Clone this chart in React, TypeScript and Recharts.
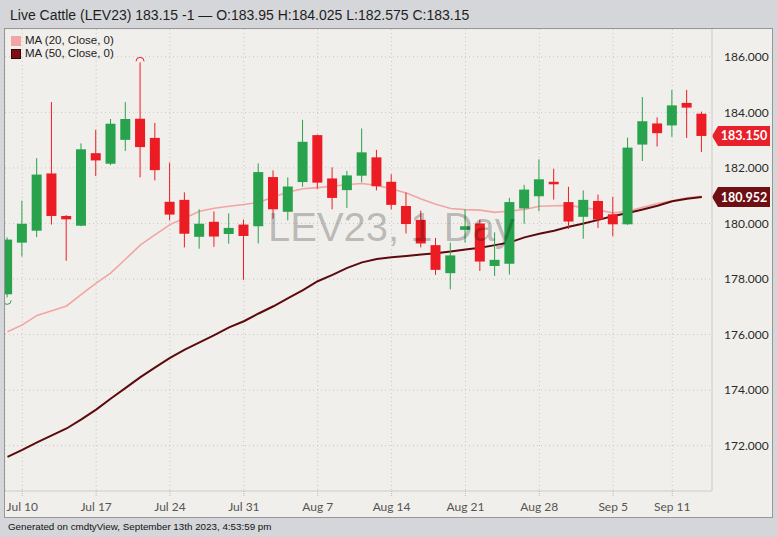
import React from 'react';
import { ComposedChart, Bar, Line, XAxis, YAxis, CartesianGrid, ReferenceLine } from 'recharts';

const DATES = [
  'Jul 7', 'Jul 10', 'Jul 11', 'Jul 12', 'Jul 13', 'Jul 14', 'Jul 17', 'Jul 18', 'Jul 19', 'Jul 20',
  'Jul 21', 'Jul 24', 'Jul 25', 'Jul 26', 'Jul 27', 'Jul 28', 'Jul 31', 'Aug 1', 'Aug 2', 'Aug 3',
  'Aug 4', 'Aug 7', 'Aug 8', 'Aug 9', 'Aug 10', 'Aug 11', 'Aug 14', 'Aug 15', 'Aug 16', 'Aug 17',
  'Aug 18', 'Aug 21', 'Aug 22', 'Aug 23', 'Aug 24', 'Aug 25', 'Aug 28', 'Aug 29', 'Aug 30', 'Aug 31',
  'Sep 1', 'Sep 5', 'Sep 6', 'Sep 7', 'Sep 8', 'Sep 11', 'Sep 12', 'Sep 13',
];

const OPEN = [
  177.45, 179.31, 179.74, 181.8, 180.27, 179.92, 182.53, 182.15, 183.01, 183.77,
  183.08, 180.78, 180.85, 179.52, 180.06, 179.62, 179.96, 179.9, 181.67, 180.42,
  181.49, 183.18, 181.62, 181.2, 181.72, 182.38, 181.5, 180.63, 180.13, 179.22,
  178.21, 179.77, 180.0, 178.47, 178.55, 180.54, 180.98, 181.5, 180.77, 180.24,
  180.81, 180.33, 179.97, 182.84, 183.6, 183.53, 184.34, 183.95,
];
const HIGH = [
  179.5, 180.82, 182.35, 184.37, 180.3, 182.88, 183.37, 183.76, 184.37, 185.8,
  183.62, 182.19, 181.12, 180.51, 180.43, 180.36, 180.14, 182.16, 181.91, 181.66,
  183.73, 183.2, 182.02, 181.89, 183.42, 182.65, 181.77, 181.11, 180.46, 179.48,
  179.31, 180.51, 180.14, 179.68, 180.92, 181.39, 182.31, 181.97, 181.32, 181.19,
  181.04, 180.96, 183.09, 184.55, 183.82, 184.81, 184.81, 184.025,
];
const LOW = [
  177.34, 178.81, 179.51, 179.96, 178.66, 179.9, 181.71, 182.1, 182.61, 181.66,
  181.55, 180.11, 179.14, 179.09, 179.16, 179.27, 177.97, 179.28, 180.17, 180.11,
  181.32, 181.25, 180.51, 180.56, 181.48, 181.19, 180.51, 179.64, 179.14, 178.15,
  177.63, 179.31, 178.29, 178.11, 178.16, 179.99, 180.44, 180.86, 179.8, 179.45,
  179.84, 179.54, 179.95, 182.25, 182.77, 183.12, 183.08, 182.575,
];
const CLOSE = [
  179.42, 179.99, 181.76, 180.27, 180.15, 182.67, 182.27, 183.59, 183.76, 182.75,
  181.92, 180.32, 179.63, 179.99, 179.53, 179.84, 179.55, 181.85, 180.51, 181.33,
  182.94, 181.47, 180.92, 181.73, 182.56, 181.34, 180.67, 179.98, 179.28, 178.33,
  178.85, 179.9, 178.63, 178.69, 180.77, 181.22, 181.59, 181.41, 180.07, 180.85,
  180.14, 179.97, 182.73, 183.68, 183.25, 184.25, 184.17, 183.15,
];
const MA20 = [
  176.1, 176.35, 176.69, 176.86, 177.03, 177.45, 177.85, 178.22, 178.72, 179.23,
  179.6, 179.96, 180.2, 180.44, 180.55, 180.62, 180.68, 180.76, 180.95, 181.13,
  181.25, 181.29, 181.34, 181.4, 181.44, 181.37, 181.24, 181.1, 180.88, 180.69,
  180.54, 180.5, 180.48, 180.4, 180.45, 180.5, 180.62, 180.64, 180.65, 180.57,
  180.48, 180.38, 180.44, 180.58, 180.72, 180.82, 180.92, 180.98,
];
const MA50 = [
  171.6, 171.85, 172.12, 172.37, 172.62, 172.95, 173.3, 173.7, 174.08, 174.47,
  174.82, 175.16, 175.46, 175.72, 175.98, 176.26, 176.48, 176.76, 177.02, 177.31,
  177.6, 177.92, 178.15, 178.4, 178.6, 178.72, 178.78, 178.83, 178.88, 178.93,
  178.99, 179.06, 179.13, 179.22, 179.32, 179.5, 179.63, 179.74, 179.88, 180.0,
  180.13, 180.27, 180.38, 180.5, 180.64, 180.8, 180.89, 180.952,
];

const TICK_LABELS = ['Jul 10', 'Jul 17', 'Jul 24', 'Jul 31', 'Aug 7', 'Aug 14', 'Aug 21', 'Aug 28', 'Sep 5', 'Sep 11'];
const Y_TICKS = [172, 174, 176, 178, 180, 182, 184, 186];

const GREEN = '#28a24c';
const RED = '#ec1c24';
const MA20_COLOR = '#f2a5a3';
const MA50_COLOR = '#5c0a0d';

const data = DATES.map((d, i) => ({
  i,
  date: d,
  open: OPEN[i],
  high: HIGH[i],
  low: LOW[i],
  close: CLOSE[i],
  range: [LOW[i], HIGH[i]],
  ma20: MA20[i],
  ma50: MA50[i],
}));

const xTicks = TICK_LABELS.map((l) => DATES.indexOf(l));
const maxHigh = Math.max(...HIGH);
const minLow = Math.min(...LOW);
const lastClose = CLOSE[CLOSE.length - 1];
const lastMa50 = MA50[MA50.length - 1];

const Candle = (props: any) => {
  const { x, y, width, height, payload } = props;
  if (!payload) return null;
  const { open, close, high, low } = payload;
  const top = height < 0 ? y + height : y;
  const h = Math.abs(height);
  const ratio = high - low > 0 ? h / (high - low) : 0;
  const up = close >= open;
  const color = up ? GREEN : RED;
  const cx = x + width / 2;
  const yOpen = top + (high - open) * ratio;
  const yClose = top + (high - close) * ratio;
  const bodyTop = Math.min(yOpen, yClose);
  const bodyH = Math.max(Math.abs(yOpen - yClose), 2);
  const yLow = top + h;
  return (
    <g>
      <line x1={cx} x2={cx} y1={top} y2={yLow} stroke={color} strokeWidth={1} />
      <rect x={x} y={bodyTop} width={width} height={bodyH} fill={color} />
      {high === maxHigh && (
        <path d={`M${cx - 4},${top - 1} A4,4 0 0 1 ${cx + 4},${top - 1}`} fill="none" stroke={RED} strokeWidth={1} />
      )}
      {low === minLow && (
        <path d={`M${cx - 4},${yLow + 3} A4,4 0 0 0 ${cx + 4},${yLow + 3}`} fill="none" stroke={GREEN} strokeWidth={1} />
      )}
    </g>
  );
};

const priceTag = (value: number, bg: string) => (props: any) => {
  const vb = props.viewBox || {};
  const x0 = (vb.x || 0) + (vb.width || 0);
  const cy = vb.y || 0;
  return (
    <g>
      <path
        d={`M${x0},${cy} L${x0 + 6},${cy - 10} L${x0 + 58},${cy - 10} L${x0 + 58},${cy + 10} L${x0 + 6},${cy + 10} Z`}
        fill={bg}
      />
      <text
        x={x0 + 32}
        y={cy + 4.5}
        textAnchor="middle"
        fill="#ffffff"
        fontSize={12.5}
        fontWeight="bold"
        fontFamily="Lato, sans-serif"
      >
        {value.toFixed(3)}
      </text>
    </g>
  );
};

export default function App() {
  return (
    <div
      style={{
        position: 'absolute',
        left: 0,
        top: 0,
        width: 777,
        height: 537,
        background: '#d4d6d9',
        fontFamily: '"Liberation Sans", Arial, sans-serif',
        overflow: 'hidden',
      }}
    >
      <div style={{ position: 'absolute', left: 10, top: 7, fontSize: 14, lineHeight: '16px', color: '#1e1e1e', whiteSpace: 'nowrap' }}>
        Live Cattle (LEV23) 183.15 -1 — O:183.95 H:184.025 L:182.575 C:183.15
      </div>

      <div
        style={{
          position: 'absolute',
          left: 4,
          top: 28,
          width: 767,
          height: 488,
          background: '#f1efeb',
          border: '1px solid #979797',
        }}
      >
        <div style={{ position: 'absolute', left: 0, top: 0 }}>
          <ComposedChart width={767} height={488} data={data} margin={{ top: 0, right: 0, bottom: 0, left: 0 }}>
            <CartesianGrid stroke="#c9c6c1" strokeDasharray="1 3" />
            <XAxis
              dataKey="i"
              type="number"
              domain={[-0.169, 47.69]}
              allowDataOverflow
              ticks={xTicks}
              interval={0}
              tickFormatter={(v: number) => DATES[v]}
              height={26}
              axisLine={{ stroke: '#d2d0cc' }}
              tickLine={{ stroke: '#bdbbb7', strokeDasharray: '1 1' }}
              tickSize={5}
              tickMargin={6}
              tick={{ fill: '#555555', fontSize: 12, fontFamily: 'Lato, sans-serif' }}
            />
            <YAxis
              orientation="right"
              domain={[170.37, 187.0]}
              allowDataOverflow
              ticks={Y_TICKS}
              interval={0}
              tickFormatter={(v: number) => v.toFixed(3)}
              width={60}
              axisLine={{ stroke: '#d2d0cc' }}
              tickLine={false}
              tickSize={0}
              tickMargin={12}
              tick={{ fill: '#2a2a2a', fontSize: 12, fontFamily: 'Lato, sans-serif', textAnchor: 'start' }}
            />
            <Line type="linear" dataKey="ma20" stroke={MA20_COLOR} strokeWidth={1.6} dot={false} isAnimationActive={false} />
            <Line type="linear" dataKey="ma50" stroke={MA50_COLOR} strokeWidth={2} dot={false} isAnimationActive={false} />
            <Bar dataKey="range" barSize={10} shape={<Candle />} isAnimationActive={false} zIndex={450} />
            <ReferenceLine y={lastClose} stroke="none" ifOverflow="visible" label={priceTag(lastClose, '#e8202a')} />
            <ReferenceLine y={lastMa50} stroke="none" ifOverflow="visible" label={priceTag(lastMa50, '#6d0f13')} />
          </ComposedChart>
        </div>

        <div
          style={{
            position: 'absolute',
            left: 263,
            top: 178,
            fontSize: 40,
            lineHeight: '40px',
            color: 'rgba(0,0,0,0.24)',
            whiteSpace: 'nowrap',
            pointerEvents: 'none',
          }}
        >
          LEV23, 1 Day
        </div>

        <div style={{ position: 'absolute', left: 6, top: 5, fontSize: 11.5, lineHeight: '13px', color: '#222' }}>
          {[
            { label: 'MA (20, Close, 0)', color: MA20_COLOR, border: MA20_COLOR },
            { label: 'MA (50, Close, 0)', color: '#7a1114', border: '#3a0204' },
          ].map((item) => (
            <div key={item.label} style={{ display: 'flex', alignItems: 'center', height: 13 }}>
              <span
                style={{
                  display: 'inline-block',
                  width: 8,
                  height: 8,
                  background: item.color,
                  border: `0.5px solid ${item.border}`,
                  marginRight: 4,
                }}
              />
              <span>{item.label}</span>
            </div>
          ))}
        </div>
      </div>

      <div style={{ position: 'absolute', left: 8, top: 521, fontSize: 9.8, lineHeight: '12px', color: '#111' }}>
        Generated on cmdtyView, September 13th 2023, 4:53:59 pm
      </div>
    </div>
  );
}
